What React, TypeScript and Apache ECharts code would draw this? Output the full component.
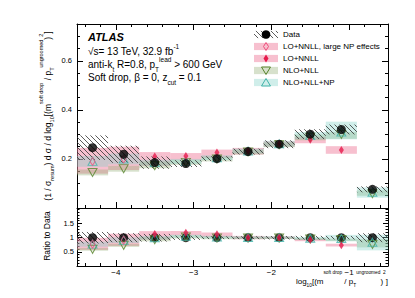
import React, { useEffect, useRef } from 'react';
import * as echarts from 'echarts';

const FONT = '"Liberation Sans", Arial, Helvetica, sans-serif';

// ---- bins (log10 of (m/pT)^2) ----
const binLow = [-4.5, -4.1, -3.7, -3.3, -2.9, -2.5, -2.1, -1.7, -1.3, -0.9];
const binHigh = [-4.1, -3.7, -3.3, -2.9, -2.5, -2.1, -1.7, -1.3, -0.9, -0.5];
const binCenter = [-4.3, -3.9, -3.5, -3.1, -2.7, -2.3, -1.9, -1.5, -1.1, -0.7];

// ---- Data ----
const dataVal = [0.246, 0.219, 0.185, 0.181, 0.201, 0.230, 0.260, 0.301, 0.320, 0.076];
const dataErr = [0.050, 0.035, 0.025, 0.014, 0.010, 0.012, 0.016, 0.020, 0.020, 0.012];

// ---- LO+NNLL, large NP effects ----
const lpVal = [0.19, 0.2, null, null, null, null, null, null, null, null];
const lpLo = [0.14, 0.155, null, null, null, null, null, null, null, null];
const lpHi = [0.245, 0.25, null, null, null, null, null, null, null, null];

// ---- LO+NNLL ----
const loVal = [null, null, 0.21, 0.212, 0.226, 0.232, 0.262, 0.278, 0.236, null];
const loLo = [null, null, 0.172, 0.196, 0.205, 0.218, 0.25, 0.264, 0.221, null];
const loHi = [null, null, 0.228, 0.224, 0.238, 0.245, 0.272, 0.29, 0.252, null];

// ---- NLO+NLL ----
const nlVal = [0.145, 0.16, 0.172, 0.186, 0.2, 0.228, 0.258, 0.288, 0.3, 0.058];
const nlLo = [0.133, 0.148, 0.162, 0.176, 0.19, 0.218, 0.248, 0.276, 0.282, 0.05];
const nlHi = [0.157, 0.172, 0.19, 0.196, 0.21, 0.238, 0.268, 0.3, 0.31, 0.072];

// ---- NLO+NLL+NP ----
const npVal = [0.19, 0.2, 0.185, 0.19, 0.205, 0.232, 0.262, 0.295, 0.31, 0.064];
const npLo = [0.168, 0.178, 0.173, 0.18, 0.195, 0.222, 0.25, 0.28, 0.28, 0.042];
const npHi = [0.212, 0.222, 0.197, 0.2, 0.215, 0.242, 0.274, 0.31, 0.352, 0.084];

// ---- ticks ----
const xMajor = [-4, -3, -2, -1];
const yMajor = [0, 0.2, 0.4, 0.6];
const yLabels = [0.2, 0.4, 0.6];
const rMajor = [0.5, 1, 1.5];
const rLabels = [0.5, 1, 1.5];

const range = (a: number, b: number, s: number) => {
  const out: number[] = [];
  for (let v = a; v <= b + 1e-9; v += s) out.push(Math.round(v * 1000) / 1000);
  return out;
};
const xMinor = range(-4.4, -0.6, 0.2).filter((v) => Math.abs(v - Math.round(v)) > 1e-6);
const yMinor = range(0.05, 0.75, 0.05);
const rMinor = range(0.1, 2.0, 0.1);

const PINK = 'rgba(240,130,160,0.5)';
const GREEN = 'rgba(140,170,110,0.35)';
const TEAL = 'rgba(120,205,195,0.35)';
const RED = '#e6194b';
const PINK_M = '#ee4d7a';
const OLIVE = '#56822a';
const TEAL_M = '#3fb3a9';

const ratio = (arr: (number | null)[]) => arr.map((v, i) => (v == null ? null : v / dataVal[i]));

function makeHatch() {
  const c = document.createElement('canvas');
  const s = 5;
  c.width = s;
  c.height = s;
  const ctx = c.getContext('2d')!;
  ctx.strokeStyle = '#333';
  ctx.lineWidth = 0.8;
  ctx.beginPath();
  ctx.moveTo(-1, -1);
  ctx.lineTo(s + 1, s + 1);
  ctx.moveTo(s - 1, -1);
  ctx.lineTo(s + 1, 1);
  ctx.moveTo(-1, s - 1);
  ctx.lineTo(1, s + 1);
  ctx.stroke();
  return { image: c, repeat: 'repeat' };
}

// sup: top aligned; sub: bottom aligned, lifted by padding subPad
function rich(fs: number, subPad: number) {
  return {
    sup: { fontSize: fs, fontFamily: FONT, fill: '#000', verticalAlign: 'top' },
    sub: { fontSize: fs, fontFamily: FONT, fill: '#000', verticalAlign: 'bottom', padding: [0, 0, subPad, 0] },
  };
}

export default function App() {
  const ref = useRef<HTMLDivElement>(null);
  useEffect(() => {
    if (!ref.current) return;
    const chart = echarts.init(ref.current, undefined, { renderer: 'svg' });
    const hatch = makeHatch();

    const tickAxis = (
      kind: 'x' | 'y',
      gridIndex: number,
      position: string,
      ticks: number[],
      len: number,
      showLine: boolean,
      labels: number[] | null,
      margin = 4
    ) => {
      const isX = kind === 'x';
      const [min, max] = isX ? [-4.5, -0.5] : gridIndex === 0 ? [0, 0.75] : [0, 2.05];
      return {
        type: 'value',
        gridIndex,
        position,
        min,
        max,
        splitLine: { show: false },
        axisLine: { show: showLine, onZero: false, lineStyle: { color: '#000', width: 1 } },
        axisTick: {
          show: true,
          inside: true,
          length: len,
          customValues: ticks,
          lineStyle: { color: '#000', width: 1 },
        },
        axisLabel: labels
          ? {
              show: true,
              customValues: labels,
              margin,
              fontSize: isX ? 8 : 7.5,
              fontFamily: FONT,
              color: '#000',
              formatter: isX ? (v: number) => '\u2212' + Math.abs(v) : (v: number) => String(v),
            }
          : { show: false },
      };
    };

    const boxSeries = (
      lo: (number | null)[],
      hi: (number | null)[],
      fill: any,
      ax: number,
      z: number
    ) => ({
      type: 'custom',
      xAxisIndex: ax,
      yAxisIndex: ax,
      z,
      clip: true,
      silent: true,
      data: binLow
        .map((l, i) => [l, binHigh[i], lo[i], hi[i]])
        .filter((d) => d[2] != null && d[3] != null),
      renderItem: (params: any, api: any) => {
        const a = api.coord([api.value(0), api.value(3)]);
        const b = api.coord([api.value(1), api.value(2)]);
        return {
          type: 'rect',
          shape: { x: a[0], y: a[1], width: b[0] - a[0], height: b[1] - a[1] },
          style: { fill },
        };
      },
    });

    const markerSeries = (
      vals: (number | null)[],
      ax: number,
      symbol: string,
      size: any,
      itemStyle: any,
      z: number,
      rotate = 0
    ) => ({
      type: 'scatter',
      xAxisIndex: ax,
      yAxisIndex: ax,
      symbol,
      symbolSize: size,
      symbolRotate: rotate,
      itemStyle,
      z,
      silent: true,
      data: binCenter.map((c, i) => [c, vals[i]]).filter((d) => d[1] != null),
    });

    const openStyle = (c: string) => ({ color: 'rgba(0,0,0,0)', borderColor: c, borderWidth: 1 });

    const dataLo = dataVal.map((v, i) => v - dataErr[i]);
    const dataHi = dataVal.map((v, i) => v + dataErr[i]);
    const ones = dataVal.map(() => 1);

    const series: any[] = [
      // upper panel
      boxSeries(lpLo, lpHi, PINK, 0, 1),
      boxSeries(loLo, loHi, PINK, 0, 2),
      boxSeries(nlLo, nlHi, GREEN, 0, 3),
      boxSeries(npLo, npHi, TEAL, 0, 4),
      boxSeries(dataLo, dataHi, hatch, 0, 5),
      markerSeries(nlVal, 0, 'triangle', [9, 8], openStyle(OLIVE), 6, 180),
      markerSeries(npVal, 0, 'triangle', [9, 8], openStyle(TEAL_M), 7),
      markerSeries(lpVal, 0, 'diamond', [5, 8], openStyle(PINK_M), 8),
      markerSeries(loVal, 0, 'diamond', [5, 8], { color: RED }, 9),
      markerSeries(dataVal, 0, 'circle', 9, { color: '#000' }, 10),
      // ratio panel
      boxSeries(ratio(lpLo), ratio(lpHi), PINK, 4, 1),
      boxSeries(ratio(loLo), ratio(loHi), PINK, 4, 2),
      boxSeries(ratio(nlLo), ratio(nlHi), GREEN, 4, 3),
      boxSeries(ratio(npLo), ratio(npHi), TEAL, 4, 4),
      boxSeries(ratio(dataLo), ratio(dataHi), hatch, 4, 5),
      markerSeries(ones, 4, 'circle', 9, { color: '#000' }, 6),
      markerSeries(ratio(nlVal), 4, 'triangle', [9, 8], openStyle(OLIVE), 7, 180),
      markerSeries(ratio(npVal), 4, 'triangle', [9, 8], openStyle(TEAL_M), 8),
      markerSeries(ratio(lpVal), 4, 'diamond', [5, 8], openStyle(PINK_M), 9),
      markerSeries(ratio(loVal), 4, 'diamond', [5, 8], { color: RED }, 10),
    ];

    const legendRows = [34.5, 46.5, 58.5, 70.5, 82.5];
    const legendText = ['Data', 'LO+NNLL, large NP effects', 'LO+NNLL', 'NLO+NLL', 'NLO+NLL+NP'];
    const legendFill = [hatch, PINK, PINK, GREEN, TEAL];
    const lx = 254;
    const lw = 24;
    const cx = lx + lw / 2;
    const graphics: any[] = [];
    legendRows.forEach((y, i) => {
      graphics.push({ type: 'rect', shape: { x: lx, y: y - 3.6, width: lw, height: 7.2 }, style: { fill: legendFill[i] } });
      graphics.push({
        type: 'text',
        x: 283,
        y,
        style: { text: legendText[i], fontSize: 8, fontFamily: FONT, fill: '#000', verticalAlign: 'middle', align: 'left' },
      });
    });
    graphics.push({ type: 'circle', shape: { cx, cy: legendRows[0], r: 4.3 }, style: { fill: '#000' } });
    graphics.push({
      type: 'polygon',
      shape: { points: [[cx, legendRows[1] - 4], [cx + 2.5, legendRows[1]], [cx, legendRows[1] + 4], [cx - 2.5, legendRows[1]]] },
      style: { fill: 'none', stroke: PINK_M, lineWidth: 1 },
    });
    graphics.push({
      type: 'polygon',
      shape: { points: [[cx, legendRows[2] - 4], [cx + 2.5, legendRows[2]], [cx, legendRows[2] + 4], [cx - 2.5, legendRows[2]]] },
      style: { fill: RED },
    });
    graphics.push({
      type: 'polygon',
      shape: { points: [[cx - 4.5, legendRows[3] - 3.5], [cx + 4.5, legendRows[3] - 3.5], [cx, legendRows[3] + 4]] },
      style: { fill: 'none', stroke: OLIVE, lineWidth: 1 },
    });
    graphics.push({
      type: 'polygon',
      shape: { points: [[cx - 4.5, legendRows[4] + 3.5], [cx + 4.5, legendRows[4] + 3.5], [cx, legendRows[4] - 4]] },
      style: { fill: 'none', stroke: TEAL_M, lineWidth: 1 },
    });

    // ATLAS labels
    graphics.push({
      type: 'text',
      x: 88,
      y: 37,
      style: { text: 'ATLAS', fontSize: 11, fontWeight: 'bold', fontStyle: 'italic', fontFamily: FONT, fill: '#000', verticalAlign: 'middle' },
    });
    const infoLines = [
      { t: '\u221As= 13 TeV, 32.9 fb{sup|-1}', y: 51.5 },
      { t: 'anti-k{sub|t} R=0.8, p{sub|T}{sup|lead} > 600 GeV', y: 64.5 },
      { t: 'Soft drop, \u03B2 = 0, z{sub|cut} = 0.1', y: 77.5 },
    ];
    infoLines.forEach((l) => {
      graphics.push({
        type: 'text',
        x: 88,
        y: l.y,
        style: {
          text: l.t,
          fontSize: 10,
          fontFamily: FONT,
          fill: '#000',
          lineHeight: 16.5,
          verticalAlign: 'middle',
          rich: rich(6.5, 0),
        },
      });
    });

    // axis titles
    graphics.push({
      type: 'text',
      x: 48,
      y: 116,
      rotation: Math.PI / 2,
      style: {
        text: '(1 / \u03C3{sub|resum}) d \u03C3 / d log{sub|10}[(m{sup|soft drop} / p{sub|T}{sup|ungroomed}){sup|2}]',
        fontSize: 8.5,
        fontFamily: FONT,
        fill: '#000',
        lineHeight: 20.5,
        align: 'center',
        verticalAlign: 'middle',
        rich: rich(5.5, 3.5),
      },
    });
    graphics.push({
      type: 'text',
      x: 47,
      y: 236,
      rotation: Math.PI / 2,
      style: { text: 'Ratio to Data', fontSize: 8.5, fontFamily: FONT, fill: '#000', align: 'center', verticalAlign: 'middle' },
    });
    graphics.push({
      type: 'text',
      x: 388,
      y: 281,
      style: {
        text: 'log{sub|10}[(m{sup|soft drop} / p{sub|T}{sup|ungroomed}){sup|2}]',
        fontSize: 8,
        fontFamily: FONT,
        fill: '#000',
        lineHeight: 23,
        align: 'right',
        verticalAlign: 'middle',
        rich: rich(4.8, 4.5),
      },
    });

    chart.setOption({
      animation: false,
      backgroundColor: '#fff',
      grid: [
        { left: 77, top: 24, width: 311, height: 184, containLabel: false },
        { left: 77, top: 208, width: 311, height: 58, containLabel: false },
      ],
      xAxis: [
        tickAxis('x', 0, 'bottom', xMajor, 6, true, null),
        tickAxis('x', 0, 'bottom', xMinor, 3, false, null),
        tickAxis('x', 0, 'top', xMajor, 6, true, null),
        tickAxis('x', 0, 'top', xMinor, 3, false, null),
        tickAxis('x', 1, 'bottom', xMajor, 6, true, xMajor, 2),
        tickAxis('x', 1, 'bottom', xMinor, 3, false, null),
      ],
      yAxis: [
        tickAxis('y', 0, 'left', yMajor, 6, true, yLabels, 5),
        tickAxis('y', 0, 'left', yMinor, 3, false, null),
        tickAxis('y', 0, 'right', yMajor, 6, true, null),
        tickAxis('y', 0, 'right', yMinor, 3, false, null),
        tickAxis('y', 1, 'left', rMajor, 5, true, rLabels, 3),
        tickAxis('y', 1, 'left', rMinor, 2.5, false, null),
        tickAxis('y', 1, 'right', rMajor, 5, true, null),
        tickAxis('y', 1, 'right', rMinor, 2.5, false, null),
      ],
      series,
      graphic: graphics,
    });
    return () => chart.dispose();
  }, []);
  return <div ref={ref} style={{ position: 'fixed', left: 0, top: 0, width: 415, height: 298, background: '#fff' }} />;
}
